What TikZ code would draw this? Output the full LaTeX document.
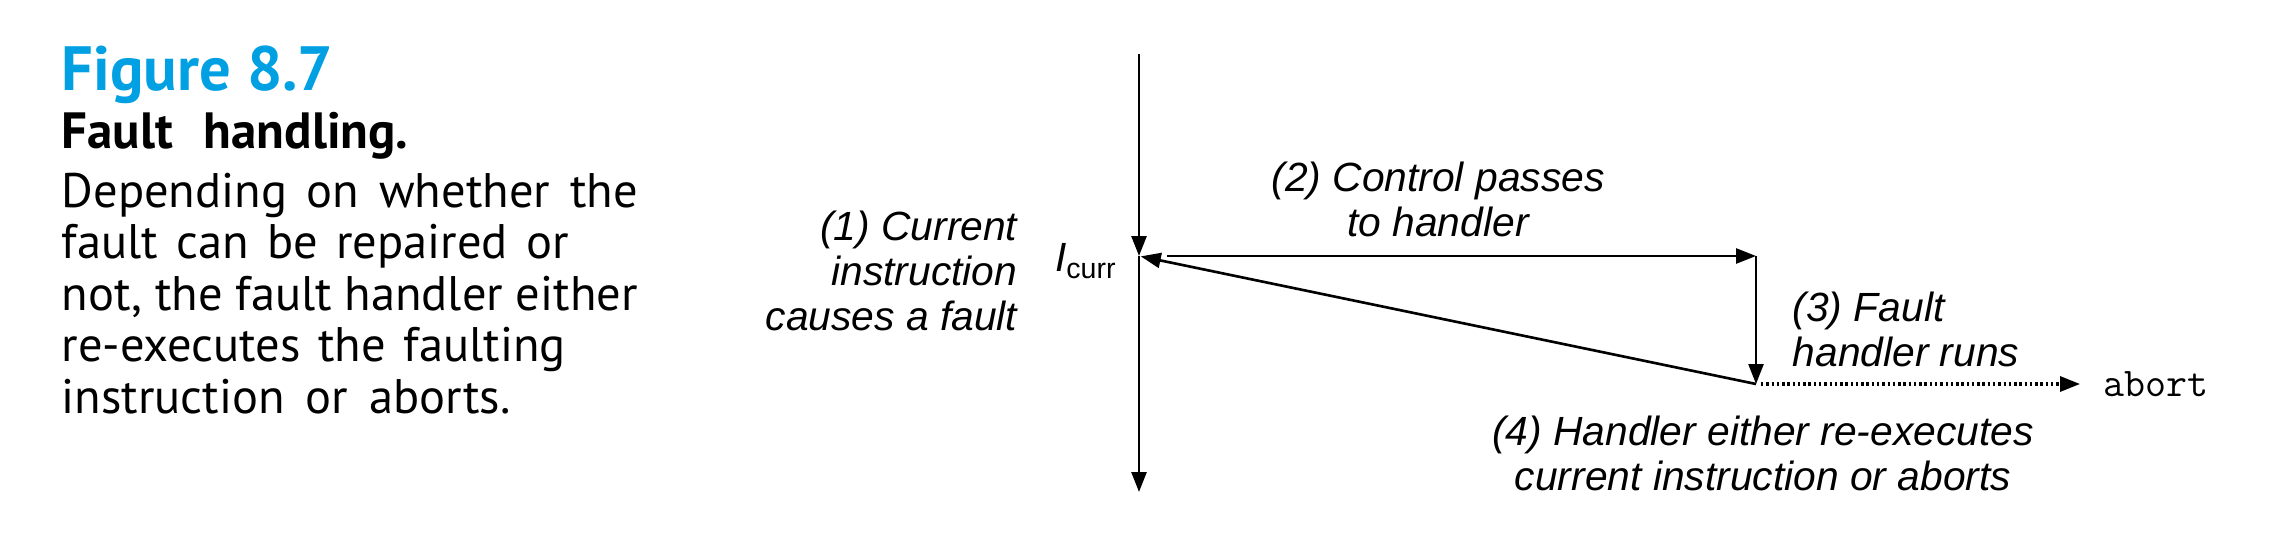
\documentclass[tikz,border=0pt]{standalone}
\usepackage{xcolor}
\usepackage{fontspec}
\setmainfont{Liberation Sans}
\newfontfamily\capfont{PT Sans}
\usepackage{tikz}
\usetikzlibrary{arrows.meta, positioning, calc}

\definecolor{figcyan}{RGB}{0,160,227}

\tikzset{
	flow/.style={line width=0.75pt, -{Triangle[length=2mm, width=1.5mm]}},
	lbl/.style={font=\fontsize{11.6}{12.8}\selectfont\itshape, align=center, inner sep=0pt},
	capline/.style={font=\capfont\fontsize{13.8}{14.8}\selectfont, anchor=base west, inner sep=0pt}
}

\begin{document}
\begin{tikzpicture}
		\useasboundingbox (0,0) rectangle (22.70,5.54);
		
		%//caption on the left
		\node [capline, font=\capfont\bfseries\fontsize{17.8}{18}\selectfont, text=figcyan] (fignum) at (0.61,4.63) {Figure 8.7};
		\node [capline, font=\capfont\bfseries\fontsize{14.5}{15}\selectfont] (figtitle) at (0.61,4.05) {Fault\hspace{0.35em} handling.};
		
		\foreach \t/\w [count=\i] in {Depending on whether the/5.76, fault can be repaired or/5.07, {not, the fault handler either}/5.76, re-executes the faulting/5.04, instruction or aborts./4.49}
		\node [capline] (body\i) at (0.61, 3.985-0.515*\i) {\makebox[\w cm][s]{\t}};
		
		%//control flow
		\coordinate (top) at (11.39,5.00);
		\coordinate (curr) at (11.39,2.98);
		\coordinate (bottom) at (11.39,0.62);
		\coordinate (pass) at (11.67,2.98);
		\coordinate (hstart) at (17.56,2.98);
		\coordinate (hend) at (17.56,1.70);
		
		\node [font=\ttfamily\fontsize{11.6}{12}\selectfont, anchor=west, inner sep=0pt] (abort) at (21.03,1.70) {abort};
		
		\draw [flow] (top) -- (curr);
		\draw [flow] (curr) -- (bottom);
		\draw [flow] (pass) -- (hstart);
		\draw [flow] (hstart) -- (hend);
		\draw [flow, shorten >=0.5pt] (hend) -- (curr);
		\draw [flow, line width=0.9pt, dash pattern=on 0.7pt off 0.8pt, shorten <=0.5mm, shorten >=2.3mm] (hend) -- (abort.west);
		
		%//labels
		\node [lbl, anchor=east, align=right] (step1) at (10.18,2.83) {(1) Current\\instruction\\causes a fault};
		\node [font=\fontsize{11.6}{12.8}\selectfont, anchor=east, inner sep=0pt] (icurr) at (11.18,2.93) {\textit{I}\textsubscript{curr}};
		\node [lbl] (step2) at (14.38,3.55) {(2) Control passes\\to handler};
		\node [lbl, anchor=west, align=left] (step3) at (17.92,2.25) {(3) Fault\\handler runs};
		\node [lbl] (step4) at (17.63,1.01) {(4) Handler either re-executes\\current instruction or aborts};
		
\end{tikzpicture}
\end{document}
